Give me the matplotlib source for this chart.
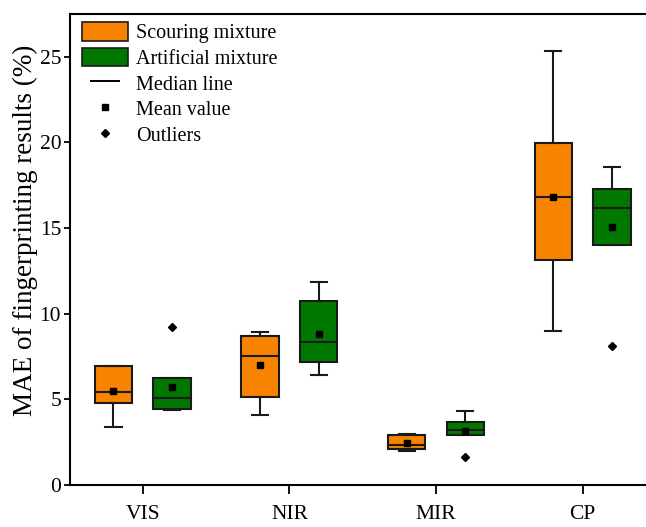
import matplotlib.pyplot as plt
from matplotlib.patches import Patch
from matplotlib.lines import Line2D

plt.rcParams['font.family'] = ['Liberation Serif', 'DejaVu Serif']

# Werte (MAE in %)
groups = ['VIS', 'NIR', 'MIR', 'CP']

scour_q1 = [4.79, 5.16, 2.08, 13.16]
scour_med = [5.45, 7.55, 2.35, 16.82]
scour_q3 = [6.97, 8.72, 2.92, 19.96]
scour_lo = [3.41, 4.07, 1.99, 9.0]
scour_hi = [6.97, 8.94, 3.0, 25.33]
scour_mean = [5.51, 7.0, 2.45, 16.82]
scour_out = [[], [], [], []]

art_q1 = [4.42, 7.17, 2.90, 14.02]
art_med = [5.10, 8.37, 3.19, 16.16]
art_q3 = [6.23, 10.75, 3.66, 17.29]
art_lo = [4.38, 6.44, 2.90, 14.02]
art_hi = [6.23, 11.86, 4.32, 18.56]
art_mean = [5.74, 8.84, 3.15, 15.05]
art_out = [[9.2], [], [1.65], [8.10]]

orange = '#F78300'
green = '#007800'


def make_stats(q1, med, q3, lo, hi, mean, out):
    stats = []
    for i in range(len(q1)):
        stats.append(dict(q1=q1[i], med=med[i], q3=q3[i], whislo=lo[i],
                          whishi=hi[i], mean=mean[i], fliers=out[i]))
    return stats


fig = plt.figure(figsize=(6.46, 5.27), dpi=100)
ax = fig.add_axes([69.5 / 646, 42 / 527, 586.5 / 646, 471 / 527])

pos = list(range(1, len(groups) + 1))
for stats, col, off in [
        (make_stats(scour_q1, scour_med, scour_q3, scour_lo, scour_hi, scour_mean, scour_out), orange, -0.2),
        (make_stats(art_q1, art_med, art_q3, art_lo, art_hi, art_mean, art_out), green, 0.2)]:
    ax.bxp(stats, positions=[p + off for p in pos], widths=0.255, capwidths=0.11,
           showmeans=True, patch_artist=True,
           boxprops=dict(facecolor=col, edgecolor='#1a1a1a', linewidth=1.5),
           medianprops=dict(color='#1a1a1a', linewidth=1.5),
           whiskerprops=dict(color='#1a1a1a', linewidth=1.5),
           capprops=dict(color='#1a1a1a', linewidth=1.5),
           meanprops=dict(marker='s', markerfacecolor='k', markeredgecolor='k', markersize=4.5),
           flierprops=dict(marker='D', markerfacecolor='k', markeredgecolor='k', markersize=4.5))

ax.set_xlim(0.5, 4.5)
ax.set_ylim(0, 27.5)
ax.set_xticks(pos)
ax.set_xticklabels(groups)
ax.set_yticks([0, 5, 10, 15, 20, 25])
ax.tick_params(axis='x', labelsize=15.5, length=6.5, width=1.3, pad=8, direction='out')
ax.tick_params(axis='y', labelsize=15.5, length=4.5, width=1.3, pad=1.5, direction='out')
ax.set_ylabel('MAE of fingerprinting results (%)', fontsize=19.5, y=0.541, labelpad=1)
for s in ax.spines.values():
    s.set_linewidth(1.5)

handles = [
    Patch(facecolor=orange, edgecolor='#1a1a1a', linewidth=1.2),
    Patch(facecolor=green, edgecolor='#1a1a1a', linewidth=1.2),
    Line2D([], [], color='k', marker='_', markersize=21, mew=1.4, ls='none'),
    Line2D([], [], color='k', marker='s', markersize=4.5, ls='none'),
    Line2D([], [], color='k', marker='D', markersize=4.5, ls='none'),
]
labels = ['Scouring mixture', 'Artificial mixture', 'Median line', 'Mean value', 'Outliers']
ax.legend(handles, labels, loc='upper left', bbox_to_anchor=(0.007, 1.0), frameon=False,
          fontsize=14.5, handlelength=2.3, handleheight=1.05, labelspacing=0.22,
          handletextpad=0.4, borderaxespad=0.3, borderpad=0.1)

fig.savefig('out.png', dpi=100)
